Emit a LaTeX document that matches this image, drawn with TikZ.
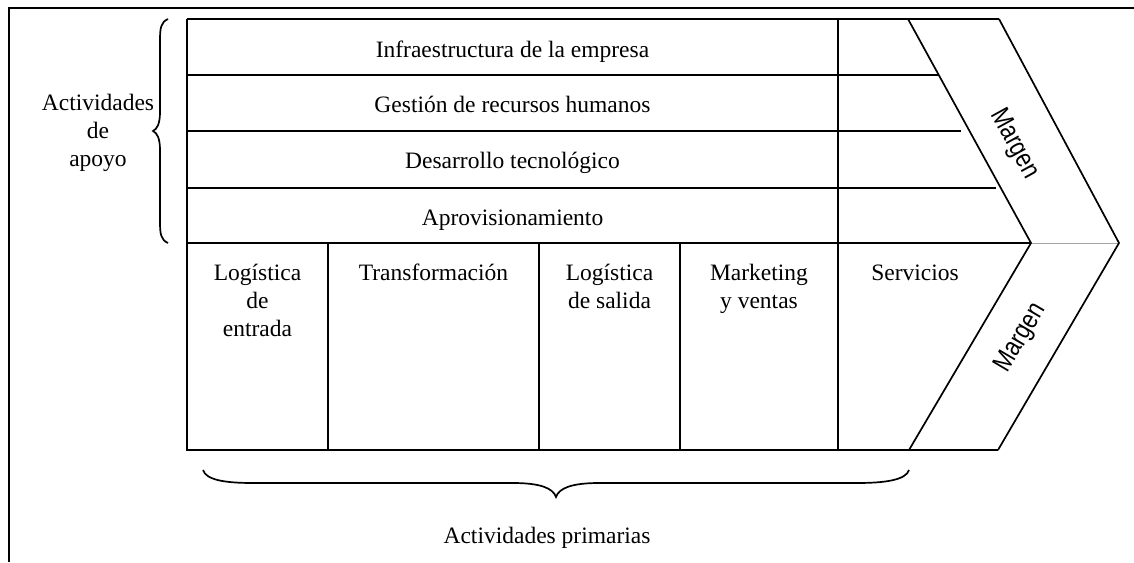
\documentclass[tikz,border=0pt]{standalone}
\usepackage{fontspec}
\setmainfont{Liberation Serif}
\newfontfamily\marfont{Liberation Sans}
\begin{document}
\begin{tikzpicture}[x=1pt,y=-1pt,
  box/.style={line width=2.1pt},
  diag/.style={line width=1.7pt},
  brc/.style={line width=1.7pt},
  lbl/.style={inner sep=0pt, font=\fontsize{23.5}{28}\selectfont, align=center},
  mar/.style={inner sep=0pt, font=\marfont\fontsize{27}{30}\selectfont}]
\useasboundingbox (0,0) rectangle (1134,562);
% outer frame
\draw[line width=2.8pt] (9,562) -- (9,8) -- (1134,8);
% support activities
\draw[box] (187,19) -- (999,19);
\draw[box] (187,19) -- (187,450) -- (998,450);
\draw[box] (838,19) -- (838,450);
\draw[box] (187,75) -- (938,75);
\draw[box] (187,131) -- (961,131);
\draw[box] (187,188) -- (996,188);
\draw[box] (187,243) -- (1031,243);
\draw[line width=1pt, black!35] (1031,243) -- (1119,243);
% primary columns
\draw[box] (328,243) -- (328,450);
\draw[box] (539,243) -- (539,450);
\draw[box] (680,243) -- (680,450);
% margin chevrons
\draw[diag] (908,19) -- (1031,243) -- (909,450);
\draw[diag] (999,19) -- (1119,243) -- (998,450);
% braces
\draw[brc] (168,19) .. controls (161,22) and (160,28) .. (160,40) -- (160,112)
  .. controls (160,124) and (157,129) .. (153,131)
  .. controls (157,133) and (160,138) .. (160,150) -- (160,222)
  .. controls (160,234) and (161,240) .. (168,243);
\draw[brc] (203,470) .. controls (206,480) and (225,483) .. (253,483) -- (513,483)
  .. controls (540,483) and (553,488) .. (556,497)
  .. controls (559,488) and (572,483) .. (599,483) -- (857,483)
  .. controls (885,483) and (906,480) .. (909,470);
% labels
\node[lbl, anchor=base] (infra) at (512.5,57) {Infraestructura de la empresa};
\node[lbl, anchor=base] (rrhh) at (512.5,112) {Gestión de recursos humanos};
\node[lbl, anchor=base] (tec) at (512.5,168) {Desarrollo tecnológico};
\node[lbl, anchor=base] (aprov) at (512.5,225) {Aprovisionamiento};
\node[lbl, anchor=north] (apoyo) at (98,90.4) {\strut Actividades\\de\\apoyo};
\node[lbl, anchor=north] (le) at (257.5,260.4) {\strut Logística\\de\\entrada};
\node[lbl, anchor=north] (tr) at (433.5,260.4) {\strut Transformación};
\node[lbl, anchor=north] (ls) at (609.5,260.4) {\strut Logística\\de salida};
\node[lbl, anchor=north] (mk) at (759,260.4) {\strut Marketing\\y ventas};
\node[lbl, anchor=base] (serv) at (915,280) {Servicios};
\node[lbl, anchor=base] (prim) at (547,543) {Actividades primarias};
\node[mar, rotate=-61.2] (m1) at (1014,144) {\scalebox{0.82}[1]{Margen}};
\node[mar, rotate=59.5] (m2) at (1021,338) {\scalebox{0.82}[1]{Margen}};
\end{tikzpicture}
\end{document}
